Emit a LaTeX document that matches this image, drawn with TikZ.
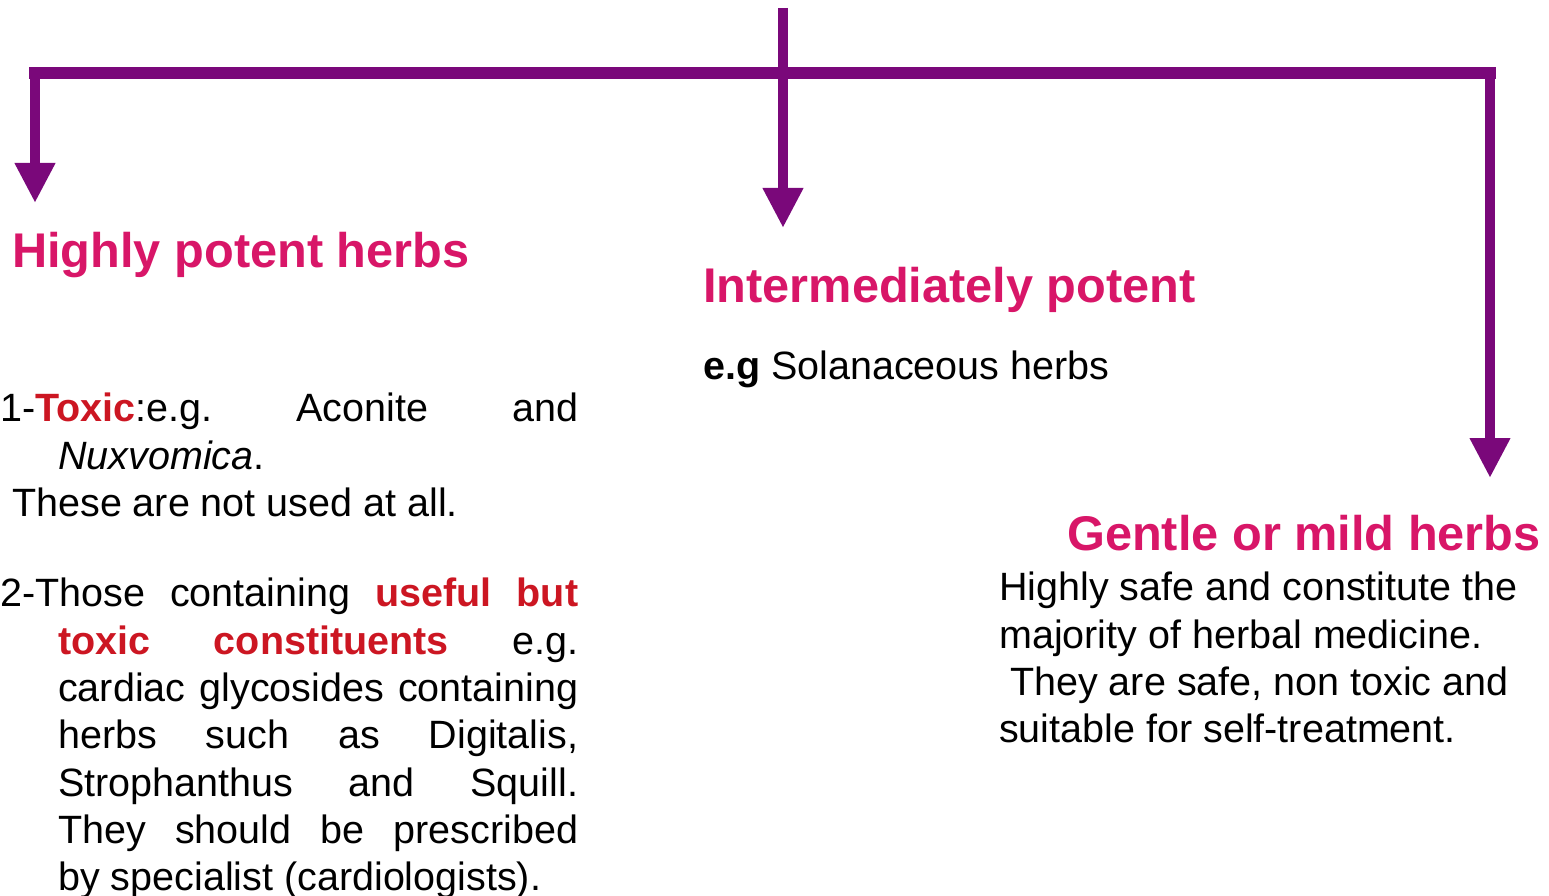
\documentclass[tikz,border=0pt]{standalone}
\usepackage{fontspec}
\setmainfont{Liberation Sans}
\usepackage{tikz}
\usetikzlibrary{calc,positioning,arrows.meta}
\definecolor{branchcol}{RGB}{122,8,122}
\definecolor{headpink}{RGB}{216,22,104}
\definecolor{toxred}{RGB}{204,22,34}
\setlength{\parindent}{0pt}
\frenchspacing
\newcommand{\bodyfont}{\fontsize{39.5}{47.3}\selectfont}
\newcommand{\headfont}{\fontsize{48.7}{56}\selectfont\bfseries}

\begin{document}
\begin{tikzpicture}[x=1pt,y=-1pt]
\tikzstyle{heading}=[inner sep=0pt, anchor=base west, text=headpink, font=\headfont]
\tikzstyle{body}=[inner sep=0pt, anchor=north west, font=\bodyfont]
\tikzstyle{bar}=[draw=branchcol, line width=12pt, line cap=rect]
\tikzstyle{pointer}=[draw=branchcol, line width=10pt, -{Triangle[width=38pt,length=40pt]}]

\useasboundingbox (0,0) rectangle (1549,896);

% branching arrows
\coordinate (top) at (783,8);
\coordinate (L) at (35,73);
\coordinate (R) at (1490,73);
\coordinate (Ltip) at (35,203);
\coordinate (Mtip) at (783,228);
\coordinate (Rtip) at (1490,478);
\draw[bar] (L) -- (R);
\draw[pointer] (L) -- (Ltip);
\draw[pointer] (top) -- (Mtip);
\draw[pointer] (R) -- (Rtip);

% headings
\node[heading] (potent) at (12,267) {Highly potent herbs};
\node[heading] (inter) at (703,302) {Intermediately potent};
\node[heading] (gentle) at (1067,550) {Gentle or mild herbs};

% texts
\node[body, text width=578pt, align=justify] (toxic) at (0,393) {%
\hangindent=58pt\hangafter=1
1-\textcolor{toxred}{\textbf{Toxic}}:e.g. Aconite and\linebreak \textit{Nuxvomica}.\par
\hspace*{12pt}These are not used at all.\par};
\node[body, text width=578pt, align=justify] (useful) at (0,578) {%
\hangindent=58pt\hangafter=1
2-Those containing \textcolor{toxred}{\textbf{useful but\linebreak toxic constituents}} e.g.\linebreak
cardiac glycosides containing\linebreak
herbs such as Digitalis,\linebreak
Strophanthus and Squill.\linebreak
They should be prescribed\linebreak
by specialist (cardiologists).\par};
\node[body, anchor=base west] (solan) at (703,379) {\textbf{e.g} Solanaceous herbs};
\node[body, align=left] (mild) at (999,572) {Highly safe and constitute the\\
majority of herbal medicine.\\
\hspace*{11pt}They are safe, non toxic and\\
suitable for self-treatment.};
\end{tikzpicture}
\end{document}
